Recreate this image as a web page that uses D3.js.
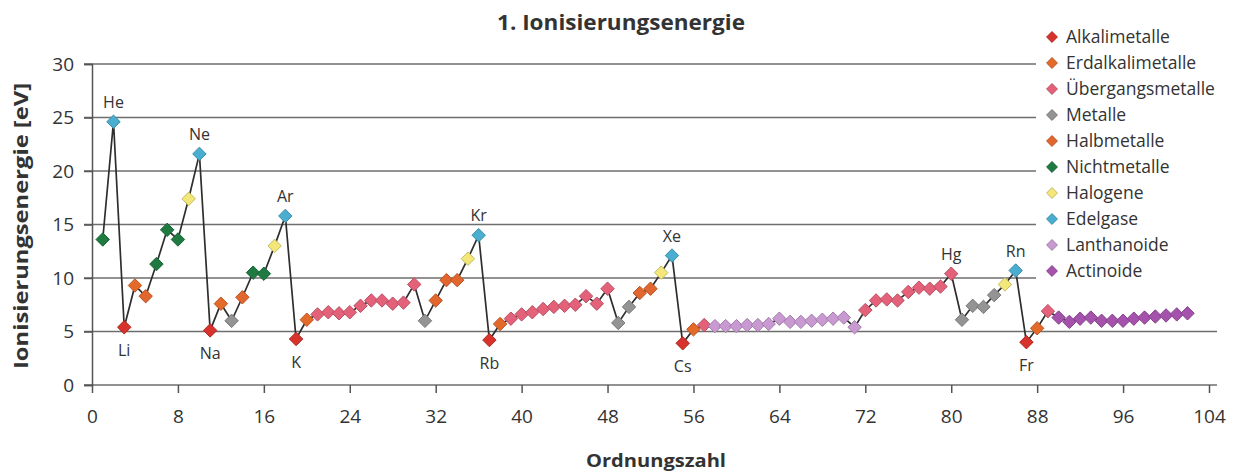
<!DOCTYPE html>
<html>
<head>
<meta charset="utf-8">
<script src="https://cdn.jsdelivr.net/npm/d3@7"></script>
<style>
  body { margin: 0; background: #fff; }
  svg { font-family: "Open Sans", "Noto Sans", sans-serif; }
</style>
</head>
<body>
<svg id="chart" width="1233" height="475"></svg>
<script>
// 1. Ionisierungsenergie, Elemente 1..102
const energie = [
  13.6, 24.6, 5.4, 9.3, 8.3, 11.3, 14.5, 13.6, 17.4, 21.6,
  5.1, 7.6, 6.0, 8.2, 10.5, 10.4, 13.0, 15.8, 4.3, 6.1,
  6.6, 6.8, 6.7, 6.8, 7.4, 7.9, 7.9, 7.6, 7.7, 9.4,
  6.0, 7.9, 9.8, 9.8, 11.8, 14.0, 4.2, 5.7, 6.2, 6.6,
  6.8, 7.1, 7.3, 7.4, 7.5, 8.3, 7.6, 9.0, 5.8, 7.3,
  8.6, 9.0, 10.5, 12.1, 3.9, 5.2, 5.6, 5.5, 5.5, 5.5,
  5.6, 5.6, 5.7, 6.2, 5.9, 5.9, 6.0, 6.1, 6.2, 6.3,
  5.4, 7.0, 7.9, 8.0, 7.9, 8.7, 9.1, 9.0, 9.2, 10.4,
  6.1, 7.4, 7.3, 8.4, 9.4, 10.7, 4.0, 5.3, 6.9, 6.3,
  5.9, 6.2, 6.3, 6.0, 6.0, 6.0, 6.2, 6.3, 6.4, 6.5,
  6.6, 6.7
];

// Kategorie je Element (Index in kategorien)
const kategorieIdx = [
  5, 7, 0, 1, 4, 5, 5, 5, 6, 7,
  0, 1, 3, 4, 5, 5, 6, 7, 0, 1,
  2, 2, 2, 2, 2, 2, 2, 2, 2, 2,
  3, 4, 4, 4, 6, 7, 0, 1, 2, 2,
  2, 2, 2, 2, 2, 2, 2, 2, 3, 3,
  4, 4, 6, 7, 0, 1, 2, 8, 8, 8,
  8, 8, 8, 8, 8, 8, 8, 8, 8, 8,
  8, 2, 2, 2, 2, 2, 2, 2, 2, 2,
  3, 3, 3, 3, 6, 7, 0, 1, 2, 9,
  9, 9, 9, 9, 9, 9, 9, 9, 9, 9,
  9, 9
];

const kategorien = ["Alkalimetalle", "Erdalkalimetalle", "Übergangsmetalle", "Metalle",
  "Halbmetalle", "Nichtmetalle", "Halogene", "Edelgase", "Lanthanoide", "Actinoide"];
const farben = ["#d8322c", "#e46a2a", "#e46279", "#949494", "#e2672e",
  "#1f7a42", "#f3e77a", "#4aaed0", "#c99ad2", "#a552ad"];

// beschriftete Elemente: [Ordnungszahl, Symbol, oben/unten]
const beschriftung = [
  [2, "He", "o"], [10, "Ne", "o"], [18, "Ar", "o"], [36, "Kr", "o"], [54, "Xe", "o"],
  [80, "Hg", "o"], [86, "Rn", "o"],
  [3, "Li", "u"], [11, "Na", "u"], [19, "K", "u"], [37, "Rb", "u"], [55, "Cs", "u"], [87, "Fr", "u"]
];

const xTicks = d3.range(0, 105, 8);
const yTicks = [0, 5, 10, 15, 20, 25, 30];

const svg = d3.select("#chart");
const x = d3.scaleLinear().domain([0, 104]).range([92, 1209]);
const y = d3.scaleLinear().domain([0, 30]).range([385, 64]);

const punkte = energie.map((v, i) => ({ z: i + 1, v, k: kategorieIdx[i] }));

// Gitterlinien
svg.append("g").selectAll("line").data(yTicks).join("line")
  .attr("x1", x(0) - 8).attr("x2", x(104) + 8)
  .attr("y1", d => y(d)).attr("y2", d => y(d))
  .attr("stroke", "#6e6e6e").attr("stroke-width", 1.3);

// Achsen
const yAxis = svg.append("g").attr("transform", `translate(${x(0)},0)`)
  .call(d3.axisLeft(y).tickValues(yTicks).tickSize(8).tickPadding(10));
const xAxis = svg.append("g").attr("transform", `translate(0,${y(0)})`)
  .call(d3.axisBottom(x).tickValues(xTicks).tickSize(8).tickPadding(17));
[xAxis, yAxis].forEach(a => {
  a.select(".domain").attr("stroke", "#555").attr("stroke-width", 1.5);
  a.selectAll(".tick line").attr("stroke", "#555").attr("stroke-width", 1.5);
  a.selectAll("text").attr("font-size", 19).attr("fill", "#333").attr("font-family", "Open Sans, sans-serif");
});
xAxis.select(".domain").remove();

// Linie
svg.append("path").datum(punkte)
  .attr("fill", "none").attr("stroke", "#2e2e2e").attr("stroke-width", 1.7)
  .attr("d", d3.line().x(d => x(d.z)).y(d => y(d.v)));

// Marker (Rauten)
const raute = d3.symbol().type(d3.symbolDiamond2).size(115);
svg.append("g").selectAll("path").data(punkte).join("path")
  .attr("transform", d => `translate(${x(d.z)},${y(d.v)})`)
  .attr("d", raute)
  .attr("fill", d => farben[d.k])
  .attr("stroke", d => d3.color(farben[d.k]).darker(0.6))
  .attr("stroke-width", 1);

// Beschriftungen
svg.append("g").selectAll("text").data(beschriftung).join("text")
  .attr("x", d => x(d[0]))
  .attr("y", d => y(energie[d[0] - 1]) + (d[2] === "o" ? -14 : 29))
  .attr("text-anchor", "middle")
  .attr("font-size", 16).attr("fill", "#333")
  .text(d => d[1]);

// Titel
svg.append("text").attr("x", 621).attr("y", 30).attr("text-anchor", "middle")
  .attr("font-size", 21).attr("font-weight", "bold").attr("fill", "#333")
  .attr("textLength", 248).attr("lengthAdjust", "spacingAndGlyphs")
  .text("1. Ionisierungsenergie");
svg.append("text").attr("x", 656).attr("y", 467).attr("text-anchor", "middle")
  .attr("font-size", 18).attr("font-weight", "bold").attr("fill", "#333")
  .attr("textLength", 140).attr("lengthAdjust", "spacingAndGlyphs")
  .text("Ordnungszahl");
svg.append("text").attr("transform", "translate(28,226) rotate(-90)")
  .attr("text-anchor", "middle")
  .attr("font-size", 19).attr("font-weight", "bold").attr("fill", "#333")
  .attr("textLength", 286).attr("lengthAdjust", "spacingAndGlyphs")
  .text("Ionisierungsenergie [eV]");

// Legende
const leg = svg.append("g");
leg.append("rect").attr("x", 1036).attr("y", 20).attr("width", 197).attr("height", 268).attr("fill", "#fff");
const items = leg.selectAll("g").data(kategorien).join("g")
  .attr("transform", (d, i) => `translate(1052,${37 + i * 26})`);
items.append("path")
  .attr("d", d3.symbol().type(d3.symbolDiamond2).size(75))
  .attr("fill", (d, i) => farben[i])
  .attr("stroke", (d, i) => d3.color(farben[i]).darker(0.6));
items.append("text").attr("x", 14).attr("dy", "0.35em")
  .attr("font-size", 17.5).attr("fill", "#333")
  .text(d => d);
</script>
</body>
</html>
